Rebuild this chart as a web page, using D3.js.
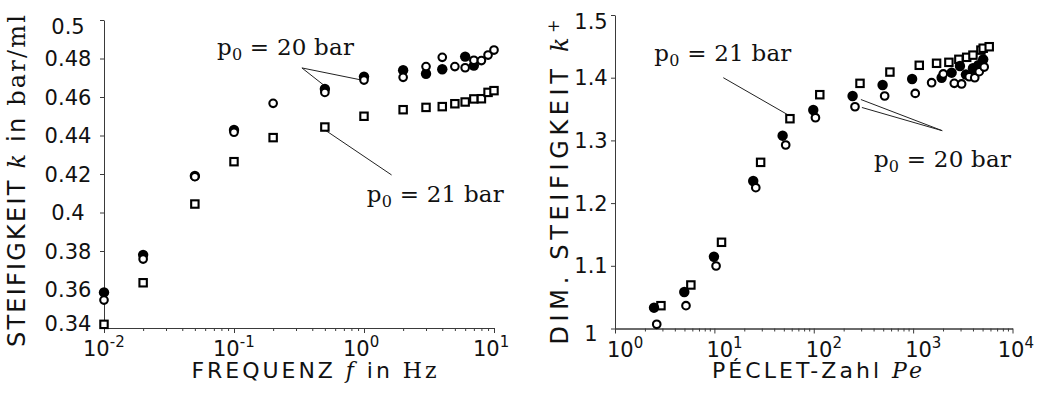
<!DOCTYPE html>
<html>
<head>
<meta charset="utf-8">
<script src="https://cdn.jsdelivr.net/npm/d3@7"></script>
<style>
  body { margin: 0; background: #fff; }
  svg { display: block; }
</style>
</head>
<body>
<svg id="chart" width="1037" height="409"></svg>
<script>
// ---- Left panel: stiffness k (bar/ml) over excitation frequency f (Hz) ----
const freqFilled = [0.01, 0.02, 0.05, 0.1, 0.5, 1, 2, 3, 4, 6, 7];
const kFilled    = [0.3585, 0.378, 0.4190, 0.4429, 0.4642, 0.4706, 0.4739, 0.4721, 0.4744, 0.4810, 0.4763];

const freqOpen = [0.01, 0.02, 0.05, 0.1, 0.2, 0.5, 1, 2, 3, 4, 5, 6, 7, 8, 9, 10];
const kOpen    = [0.3545, 0.3758, 0.4186, 0.4417, 0.4567, 0.4624, 0.4688, 0.4702, 0.4758, 0.4806, 0.4758, 0.4752, 0.4791, 0.4789, 0.4818, 0.4844];

const freqSquare = [0.01, 0.02, 0.05, 0.1, 0.2, 0.5, 1, 2, 3, 4, 5, 6, 7, 8, 9, 10];
const kSquare    = [0.3419, 0.3635, 0.4044, 0.4264, 0.4389, 0.4444, 0.4500, 0.4534, 0.4546, 0.4550, 0.4565, 0.4574, 0.4590, 0.4591, 0.4624, 0.4633];

const leftYTicks = [0.34, 0.36, 0.38, 0.4, 0.42, 0.44, 0.46, 0.48, 0.5];
const leftXExponents = [-2, -1, 0, 1];

// ---- Right panel: dimensionless stiffness k+ over Péclet number Pe ----
const peFilled = [2.47, 4.98, 9.9, 24.6, 48.6, 98.9, 246, 493, 977, 1936, 2440, 2960, 3400, 4000, 4520, 5070];
const kpFilled = [1.0332, 1.0582, 1.1145, 1.2352, 1.3075, 1.3485, 1.3708, 1.3884, 1.398, 1.400, 1.408, 1.4187, 1.405, 1.415, 1.420, 1.429];

const peOpen = [2.63, 5.18, 10.4, 26.1, 52.2, 104, 260, 517, 1050, 1535, 2010, 2594, 3075, 3666, 4170, 4624, 5190];
const kpOpen = [1.0067, 1.0364, 1.0997, 1.2246, 1.2927, 1.3362, 1.3537, 1.3708, 1.375, 1.392, 1.406, 1.391, 1.390, 1.4016, 1.400, 1.4096, 1.417];

const peSquare = [2.9, 5.8, 11.8, 29.2, 57.6, 115, 292, 584, 1153, 1722, 2290, 2886, 3460, 4000, 4810, 5070, 5830];
const kpSquare = [1.0364, 1.0694, 1.1375, 1.265, 1.3346, 1.3729, 1.391, 1.409, 1.4198, 1.423, 1.4245, 1.4293, 1.4325, 1.436, 1.444, 1.447, 1.4494];

const rightYTicks = [1, 1.1, 1.2, 1.3, 1.4, 1.5];
const rightXExponents = [0, 1, 2, 3, 4];

// Pressure labels with their leader lines, given in data coordinates
const leftNotes = [
  { bar: "20", at: [0.074, 0.4818], from: [0.333, 0.4751], to: [[0.5, 0.4657], [0.96, 0.4688]] },
  { bar: "21", at: [1.05, 0.4056],  from: [1.63, 0.4195],  to: [[0.5, 0.4429]] }
];
const rightNotes = [
  { bar: "21", at: [2.49, 1.4266], from: [12.3, 1.400],  to: [[55.4, 1.3405]] },
  { bar: "20", at: [403, 1.258],   from: [1963, 1.3155], to: [[298, 1.3652], [305, 1.3525]] }
];

const svg = d3.select("#chart");
svg.append("rect").attr("width", 1037).attr("height", 409).attr("fill", "#fff");

const SANS = "DejaVu Sans";
const SERIF = "DejaVu Serif";
const AXIS = "#3a3a3a";
const W = 1037;

function zip(xs, ys) { return xs.map((x, i) => [x, ys[i]]); }

function drawPanel(cfg) {
  const { x, y, yTicks, exps, yLabelX, xLabelDx, edgeNudge, filled, open, square, notes } = cfg;
  const g = svg.append("g");
  const y0 = y.range()[0];
  const x0 = x.range()[0];

  // log x axis: minor ticks then decade ticks
  const [d0, d1] = x.domain();
  const minors = [];
  for (let e = Math.round(Math.log10(d0)); e < Math.round(Math.log10(d1)); e++) {
    for (let m = 2; m <= 9; m++) minors.push(m * Math.pow(10, e));
  }
  const majors = exps.map(e => Math.pow(10, e));
  const ax = g.append("g").attr("transform", `translate(0,${y0})`)
    .call(d3.axisBottom(x).tickValues(minors).tickSize(3).tickSizeOuter(0).tickFormat(""));
  const axM = g.append("g").attr("transform", `translate(0,${y0})`)
    .call(d3.axisBottom(x).tickValues(majors).tickSize(5).tickSizeOuter(0).tickFormat(""));
  [ax, axM].forEach(a => {
    a.selectAll("path,line").attr("stroke", AXIS).attr("stroke-width", 1);
  });

  // decade labels with superscript exponent, kept inside the canvas
  exps.forEach(e => {
    const t = g.append("text")
      .attr("x", x(Math.pow(10, e)) + xLabelDx)
      .attr("y", y0 + 28)
      .attr("font-family", SANS).attr("font-size", 21).attr("fill", "#111");
    t.append("tspan").text("10");
    t.append("tspan").attr("dy", -9).attr("font-size", 15).text(String(e));
    const bb = t.node().getBBox();
    if (bb.x + bb.width > W - 3) t.attr("x", W - 3 - bb.width);
  });

  // linear y axis
  const ay = g.append("g").attr("transform", `translate(${x0},0)`)
    .call(d3.axisLeft(y).tickValues(yTicks).tickSize(4).tickSizeOuter(0).tickFormat(""));
  ay.selectAll("path,line").attr("stroke", AXIS).attr("stroke-width", 1);
  yTicks.forEach((v, i) => {
    let nudge = 0;
    if (i === 0) nudge = edgeNudge[0];
    if (i === yTicks.length - 1) nudge = edgeNudge[1];
    g.append("text")
      .attr("x", yLabelX).attr("y", y(v) + nudge).attr("dy", "0.36em")
      .attr("text-anchor", "middle")
      .attr("font-family", SANS).attr("font-size", 21).attr("fill", "#111")
      .text(String(+v.toFixed(2)));
  });

  // leader lines
  notes.forEach(n => {
    n.to.forEach(p => {
      g.append("line")
        .attr("x1", x(n.from[0])).attr("y1", y(n.from[1]))
        .attr("x2", x(p[0])).attr("y2", y(p[1]))
        .attr("stroke", "#222").attr("stroke-width", 1);
    });
  });

  // markers: squares, filled circles, open circles
  const side = 7.4;
  g.append("g").selectAll("rect").data(square).join("rect")
    .attr("x", d => x(d[0]) - side / 2).attr("y", d => y(d[1]) - side / 2)
    .attr("width", side).attr("height", side)
    .attr("fill", "#fff").attr("stroke", "#000").attr("stroke-width", 2.1);
  g.append("g").selectAll("circle").data(filled).join("circle")
    .attr("cx", d => x(d[0])).attr("cy", d => y(d[1])).attr("r", 5.2)
    .attr("fill", "#000");
  g.append("g").selectAll("circle").data(open).join("circle")
    .attr("cx", d => x(d[0])).attr("cy", d => y(d[1])).attr("r", 3.8)
    .attr("fill", "#fff").attr("stroke", "#000").attr("stroke-width", 2.1);

  // pressure labels
  notes.forEach(n => {
    const t = g.append("text")
      .attr("x", x(n.at[0])).attr("y", y(n.at[1]))
      .attr("font-family", SERIF).attr("font-size", 23).attr("fill", "#111")
      .attr("textLength", 137).attr("lengthAdjust", "spacing");
    t.append("tspan").text("p");
    t.append("tspan").attr("dy", 5).attr("font-size", 16).text("0");
    t.append("tspan").attr("dy", -5).text(" = " + n.bar + " bar");
  });
  return g;
}

const xL = d3.scaleLog().domain([0.01, 10]).range([104, 494]);
const yL = d3.scaleLinear().domain([0.34, 0.5]).range([328, 20]);
drawPanel({
  x: xL, y: yL, yTicks: leftYTicks, exps: leftXExponents, yLabelX: 68, xLabelDx: -21,
  edgeNudge: [-5, 6],
  filled: zip(freqFilled, kFilled), open: zip(freqOpen, kOpen), square: zip(freqSquare, kSquare),
  notes: leftNotes
});

const xR = d3.scaleLog().domain([1, 1e4]).range([615, 1012.5]);
const yR = d3.scaleLinear().domain([1, 1.5]).range([328.5, 15]);
drawPanel({
  x: xR, y: yR, yTicks: rightYTicks, exps: rightXExponents, yLabelX: 591, xLabelDx: -8,
  edgeNudge: [5, 6],
  filled: zip(peFilled, kpFilled), open: zip(peOpen, kpOpen), square: zip(peSquare, kpSquare),
  notes: rightNotes
});

// axis titles
function title(parts, opts) {
  const t = svg.append("text")
    .attr("font-size", opts.size).attr("fill", "#111")
    .attr("text-anchor", "middle")
    .attr("textLength", opts.len).attr("lengthAdjust", "spacing");
  if (opts.rotate) {
    t.attr("transform", `translate(${opts.x},${opts.y}) rotate(-90)`);
  } else {
    t.attr("x", opts.x).attr("y", opts.y);
  }
  parts.forEach(p => {
    const s = t.append("tspan").attr("font-family", p.serif ? SERIF : SANS).text(p.text);
    if (p.italic) s.attr("font-style", "italic");
    if (p.sup) s.attr("dy", -9).attr("font-size", 16);
  });
}

title([
  { text: "FREQUENZ " }, { text: "f", serif: true, italic: true },
  { text: " in " }, { text: "Hz", serif: true }
], { x: 314, y: 378, len: 245, size: 22 });

title([
  { text: "PÉCLET-Zahl " }, { text: "Pe", serif: true, italic: true }
], { x: 817, y: 378, len: 210, size: 22 });

title([
  { text: "STEIFIGKEIT " }, { text: "k", serif: true, italic: true },
  { text: " in " }, { text: "bar/ml", serif: true }
], { x: 25, y: 181, len: 332, size: 24, rotate: true });

title([
  { text: "DIM. STEIFIGKEIT " }, { text: "k", serif: true, italic: true },
  { text: "+", serif: true, sup: true }
], { x: 568, y: 182, len: 325, size: 24, rotate: true });
</script>
</body>
</html>
